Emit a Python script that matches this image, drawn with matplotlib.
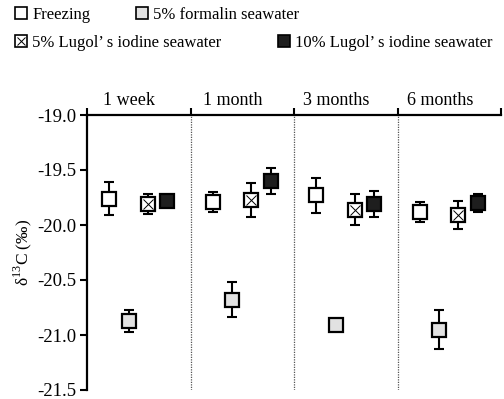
import numpy as np
import matplotlib
matplotlib.use('Agg')
from matplotlib import pyplot as plt
from matplotlib.lines import Line2D

plt.rcParams['font.family'] = ['Liberation Serif', 'DejaVu Serif']

periods = ['1 week', '1 month', '3 months', '6 months']
treatments = ['Freezing', '5% formalin seawater',
              '5% Lugol\u2019 s iodine seawater', '10% Lugol\u2019 s iodine seawater']

# mean d13C per period, one list per treatment
freezing_mean = [-19.76, -19.79, -19.73, -19.88]
freezing_err = [0.15, 0.09, 0.16, 0.09]
formalin_mean = [-20.87, -20.68, -20.91, -20.95]
formalin_err = [0.10, 0.16, 0.03, 0.175]
lugol5_mean = [-19.81, -19.77, -19.86, -19.91]
lugol5_err = [0.09, 0.155, 0.14, 0.125]
lugol10_mean = [-19.78, -19.60, -19.81, -19.80]
lugol10_err = [0.03, 0.115, 0.12, 0.08]

means = [freezing_mean, formalin_mean, lugol5_mean, lugol10_mean]
errs = [freezing_err, formalin_err, lugol5_err, lugol10_err]
offsets = [0.215, 0.405, 0.585, 0.775]
faces = ['white', '#e2e2e2', 'white', '#1e1e1e']

fig = plt.figure(figsize=(5.04, 3.99), dpi=100)
ax = fig.add_axes([87 / 504, 1 - 390 / 399, (501 - 87) / 504, (390 - 115) / 399])

for k in range(4):
    xs = np.arange(4) + offsets[k]
    ax.errorbar(xs, means[k], yerr=errs[k], fmt='none', ecolor='k',
                elinewidth=1.5, capsize=3.5, capthick=1.5, zorder=2)
    ax.plot(xs, means[k], 's', ms=9.5, mfc=faces[k], mec='k', mew=1.6,
            ls='none', zorder=3)
    if k == 2:
        ax.plot(xs, means[k], 'x', ms=7, mec='k', mew=0.7, ls='none', zorder=4)

# dotted dividers between periods
for b in range(1, 4):
    ax.plot([b, b], [-21.5, -19.0], color='#555555', ls=(0, (1, 1)), lw=0.9, zorder=1)

ax.set_xlim(0, 4)
ax.set_ylim(-21.5, -19.0)
ax.set_yticks(np.arange(-21.5, -18.99, 0.5))
ax.set_yticklabels(['%.1f' % v for v in np.arange(-21.5, -18.99, 0.5)], fontsize=13.5)
ax.tick_params(axis='y', direction='out', length=5, width=1.5, pad=3)

ax.spines['right'].set_visible(False)
ax.spines['bottom'].set_visible(False)
ax.spines['left'].set_linewidth(1.6)
ax.spines['top'].set_linewidth(1.6)
ax.spines['left'].set_bounds(-21.5, -19.0)
ax.xaxis.set_ticks_position('top')
ax.set_xticks([0, 1, 2, 3, 4])
ax.set_xticklabels([])
ax.tick_params(axis='x', direction='out', length=5, width=1.5)

for i, p in enumerate(periods):
    ax.text(i + 0.41, -19.0 + 0.055, p, ha='center', va='bottom', fontsize=13)

ax.set_ylabel('\u03b4$^{\\mathregular{13}}$C (\u2030)', fontsize=12.5, labelpad=2)

# legend entries placed one by one
leg_pos = [(14, 15), (135, 15), (14, 43), (277, 43)]
for k in range(4):
    h = [Line2D([], [], marker='s', ms=8, mfc=faces[k], mec='k', mew=1.2, ls='none')]
    if k == 2:
        h = [(h[0], Line2D([], [], marker='x', ms=6, mec='k', mew=0.7, ls='none'))]
    fig.legend(h, [treatments[k]], loc='center left',
               bbox_to_anchor=(leg_pos[k][0] / 504, 1 - leg_pos[k][1] / 399),
               frameon=False, fontsize=12, handlelength=0.8, handletextpad=0.3,
               borderpad=0, borderaxespad=0)

fig.savefig('out.png', dpi=100)
